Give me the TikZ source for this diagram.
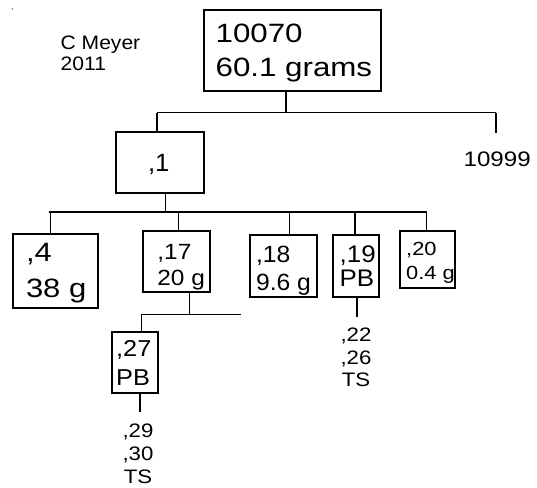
\documentclass[tikz,border=0pt]{standalone}
\usepackage{fontspec}
\usepackage{graphicx}
\setmainfont{Liberation Sans}
\newcommand\lft[2]{\scalebox{#1}[1]{\begin{tabular}[t]{@{}l@{}}#2\end{tabular}}}
\newcommand\ctr[2]{\scalebox{#1}[1]{\begin{tabular}[t]{@{}c@{}}#2\end{tabular}}}
\newcommand\fs[2]{\fontsize{#1pt}{#2pt}\selectfont}
\tikzset{
  bx/.style={draw, line width=1.1pt, inner sep=0pt},
  lbl/.style={anchor=base west, inner sep=0pt},
  clbl/.style={anchor=base, inner sep=0pt},
  conn/.style={line width=1.1pt}
}
\begin{document}
\begin{tikzpicture}[x=1pt,y=-1pt]
\useasboundingbox (0,0) rectangle (537,487);
% boxes
\node[bx, minimum width=177pt, minimum height=81pt] (A) at (292.5,50.5) {};
\node[bx, minimum width=88pt, minimum height=61pt] (B) at (160,162.5) {};
\node[bx, minimum width=85pt, minimum height=74pt] (C) at (55.5,271) {};
\node[bx, minimum width=67pt, minimum height=61pt] (D) at (176.5,261.5) {};
\node[bx, minimum width=67pt, minimum height=62pt] (E) at (283.5,266) {};
\node[bx, minimum width=46pt, minimum height=62pt] (F) at (356,266) {};
\node[bx, minimum width=55pt, minimum height=57pt] (G) at (427.5,259.5) {};
\node[bx, minimum width=46pt, minimum height=61pt] (H) at (135,362.5) {};
% texts
\node[circle, fill, inner sep=0pt, minimum size=1.3pt] (dot) at (12.3,9) {};
\node[lbl, font=\fs{19.5}{21.5}] (meyer) at (60.5,49) {\lft{1.08}{C Meyer\\2011}};
\node[lbl, font=\fs{26.5}{33.7}] (tA) at (215.5,43) {\lft{1.18}{10070\\60.1 grams}};
\node[lbl, font=\fs{25}{28}] (tB) at (147.8,171.2) {\lft{1.03}{,1}};
\node[lbl, font=\fs{21}{24}] (t10999) at (463.4,166.7) {\lft{1.15}{10999}};
\node[lbl, font=\fs{26.5}{35.6}] (tC) at (25.8,261.7) {\lft{1.17}{,4\\38 g}};
\node[lbl, font=\fs{22}{26}] (tD) at (157.2,259) {\lft{1.11}{,17\\20 g}};
\node[lbl, font=\fs{23.5}{27.3}] (tE) at (255.9,262.7) {\lft{1.05}{,18\\9.6 g}};
\node[lbl, font=\fs{24}{24}] (tF) at (339.5,262.7) {\lft{1.08}{,19\\PB}};
\node[lbl, font=\fs{19}{24.3}] (tG) at (406,255) {\lft{1.15}{,20\\0.4 g}};
\node[lbl, font=\fs{23}{28.3}] (tH) at (116,356.7) {\lft{1.1}{,27\\PB}};
\node[clbl, font=\fs{19.5}{22.6}] (sF) at (356,341.7) {\ctr{1.14}{,22\\,26\\TS}};
\node[clbl, font=\fs{19.5}{23}] (sH) at (138,437.3) {\ctr{1.14}{,29\\,30\\TS}};
% connectors level 1
\coordinate (j1) at (286,112.5);
\coordinate (b1L) at (157,112.5);
\coordinate (b1R) at (496,112.5);
\coordinate (r1) at (496,133.3);
\draw[conn] (A.south -| j1) -- (j1);
\draw[conn] (b1L) -- (b1R);
\draw[conn] (b1L) -- (B.north -| b1L);
\draw[conn] (b1R) -- (r1);
% level 2
\coordinate (j2) at (165.7,212);
\coordinate (b2L) at (49.3,212);
\coordinate (b2R) at (426.5,212);
\coordinate (dC) at (50.7,212);
\coordinate (dD) at (178.3,212);
\coordinate (dE) at (289.3,212);
\coordinate (dF) at (355,212);
\draw[conn] (B.south -| j2) -- (j2);
\draw[conn] (b2L) -- (b2R);
\draw[conn] (dC) -- (C.north -| dC);
\draw[conn] (dD) -- (D.north -| dD);
\draw[conn] (dE) -- (E.north -| dE);
\draw[conn] (dF) -- (F.north -| dF);
\draw[conn] (b2R) -- (G.north -| b2R);
% level 3
\coordinate (j3) at (189.3,314.3);
\coordinate (b3L) at (141.7,314.3);
\coordinate (b3R) at (241,314.3);
\draw[conn] (D.south -| j3) -- (j3);
\draw[conn] (b3L) -- (b3R);
\draw[conn] (b3L) -- (H.north -| b3L);
% leaf stubs
\coordinate (f1) at (357,317);
\coordinate (h1) at (140,412);
\draw[conn] (F.south -| f1) -- (f1);
\draw[conn] (H.south -| h1) -- (h1);
\end{tikzpicture}
\end{document}
